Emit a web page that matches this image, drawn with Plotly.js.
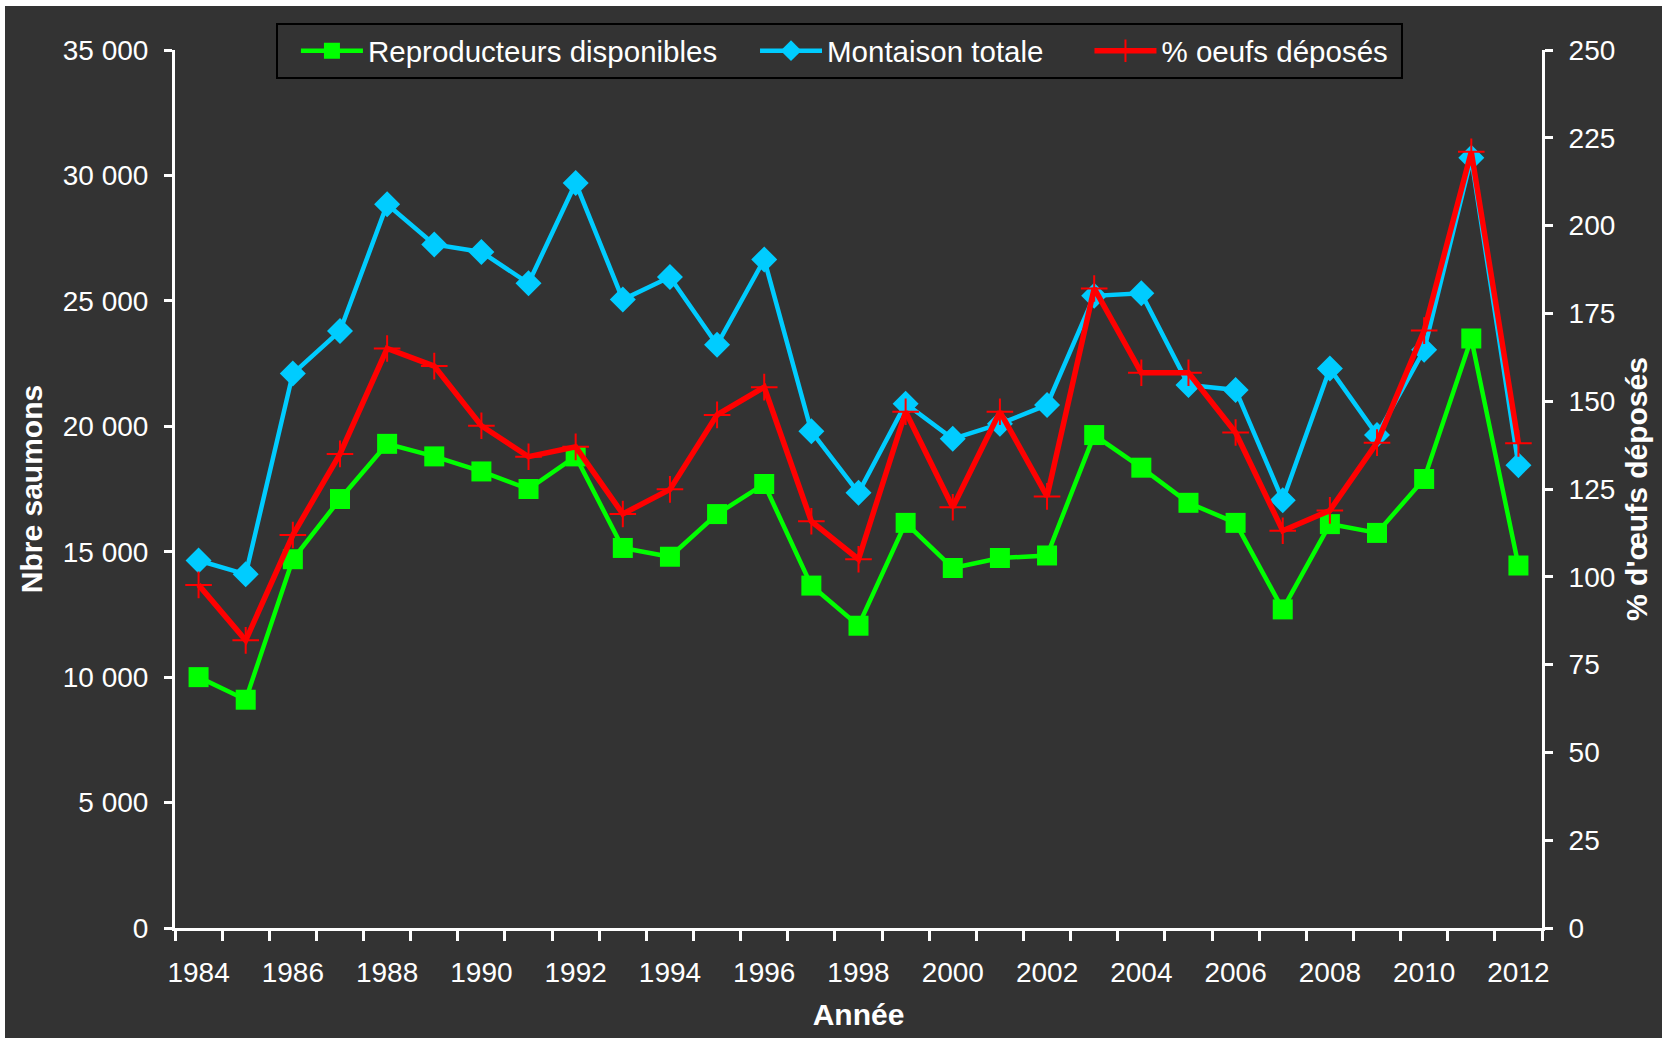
<!DOCTYPE html>
<html><head><meta charset="utf-8">
<script src="https://cdn.plot.ly/plotly-3.0.1.min.js"></script>
<style>html,body{margin:0;padding:0;background:#ffffff;overflow:hidden;} #chart{position:absolute;left:5px;top:6px;width:1657px;height:1032px;}</style>
</head><body><div id="chart"></div><script>
// Years (categories)
const years = [1984,1985,1986,1987,1988,1989,1990,1991,1992,1993,1994,1995,1996,1997,1998,1999,2000,2001,2002,2003,2004,2005,2006,2007,2008,2009,2010,2011,2012];
// Reproducteurs disponibles (left axis)
const reproducteurs = [10000,9100,14700,17100,19300,18800,18200,17500,18800,15150,14800,16500,17700,13650,12050,16150,14350,14750,14850,19650,18350,16950,16150,12700,16100,15750,17900,23500,14450];
// Montaison totale (left axis)
const montaison = [14650,14100,22100,23800,28850,27250,26950,25700,29700,25050,25950,23250,26650,19800,17350,20900,19500,20100,20850,25200,25300,21650,21450,17050,22300,19650,23050,30700,18450];
// % oeufs déposés (right axis)
const oeufs = [97.7,81.9,111.9,135.0,165.0,160.0,143.0,134.2,137.0,117.9,124.9,146.1,154.0,115.8,105.0,147.0,119.8,147.0,122.9,182.1,158.1,158.1,141.1,113.1,118.9,138.2,170.1,221.0,138.0];
// X tick labels (every other year)
const xTickYears = [1984,1986,1988,1990,1992,1994,1996,1998,2000,2002,2004,2006,2008,2010,2012];
const xTickLabels = xTickYears.map(String);
// Series names
const seriesNames = ['Reproducteurs disponibles', 'Montaison totale', '% oeufs déposés'];

const FONT = '"Liberation Sans", Arial, sans-serif';
const NB = '\u00A0';

const traces = [
  {x: years, y: reproducteurs, name: seriesNames[0] + NB.repeat(4), type: 'scatter', mode: 'lines+markers',
   line: {color: '#00FF00', width: 4.5}, marker: {symbol: 'square', size: 20, color: '#00FF00'}},
  {x: years, y: montaison, name: seriesNames[1] + NB.repeat(5), type: 'scatter', mode: 'lines+markers',
   line: {color: '#00CCFF', width: 4.5}, marker: {symbol: 'diamond', size: 20, color: '#00CCFF'}},
  {x: years, y: oeufs, name: seriesNames[2] + NB, type: 'scatter', mode: 'lines+markers', yaxis: 'y2',
   line: {color: '#FF0000', width: 5.5}, marker: {symbol: 'cross-thin', size: 19, color: '#FF0000', line: {color: '#FF0000', width: 2}}}
];

const axisCommon = {
  showline: true, linecolor: '#ffffff', linewidth: 3, showgrid: false, zeroline: false,
  ticks: 'outside', tickcolor: '#ffffff', tickwidth: 3, ticklen: 8,
  tickfont: {family: FONT, size: 28, color: '#ffffff'}, automargin: false, fixedrange: true
};

const layout = {
  width: 1657, height: 1032,
  paper_bgcolor: '#333333', plot_bgcolor: '#333333',
  font: {family: FONT, color: '#ffffff'},
  separators: ', ',
  margin: {l: 170, r: 120, t: 44, b: 110, pad: 0},
  showlegend: true,
  legend: {orientation: 'h', x: 0.074, xanchor: 'left', y: 1.0307, yanchor: 'top',
    bgcolor: '#333333', bordercolor: '#000000', borderwidth: 2,
    title: {text: NB, font: {family: FONT, size: 28, color: '#ffffff'}},
    font: {family: FONT, size: 29.5, color: '#ffffff'}, itemwidth: 62},
  xaxis: Object.assign({}, axisCommon, {
    range: [1983.5, 2012.5], tickmode: 'array', tickvals: xTickYears, ticktext: xTickLabels,
    ticklen: 10, tickcolor: 'rgba(0,0,0,0)', ticklabelstandoff: 7,
    minor: {ticks: 'outside', tick0: 1983.5, dtick: 1, ticklen: 10, tickwidth: 3, tickcolor: '#ffffff', showgrid: false},
    title: {text: 'Année', font: {family: FONT, size: 30, color: '#ffffff', weight: 'bold'}, standoff: 18}
  }),
  yaxis: Object.assign({}, axisCommon, {
    range: [0, 35000], dtick: 5000, tick0: 0, tickformat: ',', ticklabelstandoff: 10,
    title: {text: 'Nbre saumons', font: {family: FONT, size: 30, color: '#ffffff', weight: 'bold'}, standoff: 12}
  }),
  yaxis2: Object.assign({}, axisCommon, {
    overlaying: 'y', side: 'right', range: [0, 250], dtick: 25, tick0: 0, ticklabelstandoff: 10,
    title: {text: "% d'œufs déposés", font: {family: FONT, size: 30, color: '#ffffff', weight: 'bold'}, standoff: 12}
  })
};

Plotly.newPlot('chart', traces, layout, {staticPlot: true, displayModeBar: false});
</script></body></html>
